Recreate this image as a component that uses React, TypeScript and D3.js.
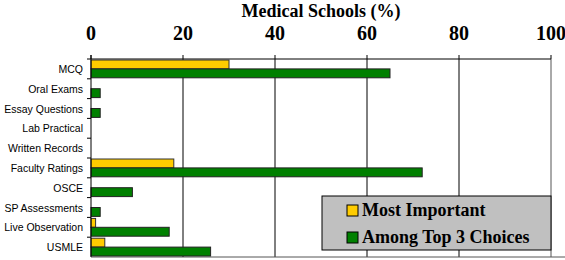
import React from 'react';
import { scaleLinear, scaleBand } from 'd3';

const categories = [
  'MCQ',
  'Oral Exams',
  'Essay Questions',
  'Lab Practical',
  'Written Records',
  'Faculty Ratings',
  'OSCE',
  'SP Assessments',
  'Live Observation',
  'USMLE'
];
const mostImportant = [30, 0, 0, 0, 0, 18, 0, 0, 1, 3];
const topThree = [65, 2, 2, 0, 0, 72, 9, 2, 17, 26];
const ticks = [0, 20, 40, 60, 80, 100];
const seriesNames = ['Most Important', 'Among Top 3 Choices'];
const COLORS = ['#FFCC00', '#008000'];

const SERIF = "'Liberation Serif', 'Times New Roman', Times, serif";
const SANS = "'Liberation Sans', Arial, Helvetica, sans-serif";

const App = () => {
  const width = 565;
  const height = 260;
  const left = 91;
  const right = 551;
  const top = 59;
  const bottom = 257;

  const x = scaleLinear().domain([0, 100]).range([left, right]);
  const y = scaleBand().domain(categories).range([top, bottom]);
  const bw = y.bandwidth();
  const barH = (bw - 2) / 2;

  return (
    <svg width={width} height={height}
      style={{ position: 'absolute', left: 0, top: 0, background: '#fff' }}>
      <text x={(left + right) / 2} y={17} textAnchor="middle"
        style={{ fontFamily: SERIF }} fontWeight="bold" fontSize={18}>
        Medical Schools (%)
      </text>

      {/* grid */}
      {ticks.slice(1).map(t => (
        <line key={t} x1={x(t)} x2={x(t)} y1={top} y2={bottom}
          stroke={t === 100 ? '#555' : '#000'} strokeWidth={1} />
      ))}

      {/* top axis */}
      <line x1={left} x2={right} y1={top} y2={top} stroke="#000" />
      {ticks.map(t => (
        <g key={t}>
          <line x1={x(t)} x2={x(t)} y1={top - 4} y2={top} stroke="#000" />
          <text x={x(t)} y={40} textAnchor="middle"
            style={{ fontFamily: SERIF }} fontWeight="bold" fontSize={20}>
            {t}
          </text>
        </g>
      ))}

      {/* bottom line */}
      <line x1={left} x2={right + 14} y1={bottom} y2={bottom} stroke="#555" />

      {/* bars */}
      {categories.map((c, i) => (
        <g key={c}>
          {mostImportant[i] > 0 && (
            <rect x={x(0)} y={(y(c) as number) + 1} width={x(mostImportant[i]) - x(0)}
              height={barH} fill={COLORS[0]} stroke="#333" strokeWidth={1} />
          )}
          {topThree[i] > 0 && (
            <rect x={x(0)} y={(y(c) as number) + 1 + barH} width={x(topThree[i]) - x(0)}
              height={barH} fill={COLORS[1]} stroke="#222" strokeWidth={1} />
          )}
        </g>
      ))}

      {/* left axis */}
      <line x1={left} x2={left} y1={top - 4} y2={bottom} stroke="#000" />
      {categories.map(c => (
        <g key={c}>
          <line x1={left - 4} x2={left} y1={y(c)} y2={y(c)} stroke="#000" />
          <text x={83} y={(y(c) as number) + bw / 2 + 4} textAnchor="end"
            style={{ fontFamily: SANS }} fontSize={10.5}>
            {c}
          </text>
        </g>
      ))}

      {/* legend */}
      <rect x={322} y={196} width={229} height={54} fill="#C0C0C0" stroke="#000" />
      {seriesNames.map((s, i) => (
        <g key={s}>
          <rect x={347} y={205 + i * 27} width={11} height={11}
            fill={COLORS[i]} stroke="#000" />
          <text x={362} y={216 + i * 27} style={{ fontFamily: SERIF }}
            fontWeight="bold" fontSize={18}>
            {s}
          </text>
        </g>
      ))}
    </svg>
  );
};

export default App;
